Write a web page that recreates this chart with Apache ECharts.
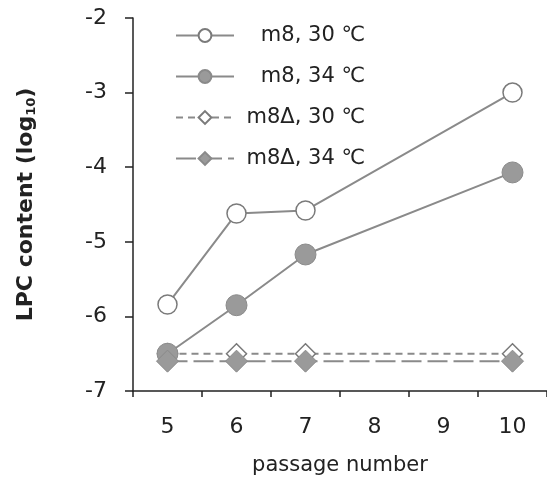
<!DOCTYPE html>
<html><head><meta charset="utf-8">
<script src="https://cdn.jsdelivr.net/npm/echarts@6/dist/echarts.min.js"></script>
<style>html,body{margin:0;padding:0;background:#fff}#c{width:547px;height:482px}</style>
</head><body><div id="c"></div>
<script>
const categories = ['5','6','7','8','9','10'];
const m8_30 = [-5.84, -4.62, -4.58, null, null, -3.0];
const m8_34 = [-6.5, -5.85, -5.17, null, null, -4.07];
const m8d_30 = [-6.5, -6.5, -6.5, null, null, -6.5];
const m8d_34 = [-6.6, -6.6, -6.6, null, null, -6.6];
const yTicks = [-7, -6, -5, -4, -3, -2];
const legendNames = ['m8, 30 ℃', 'm8, 34 ℃', 'm8Δ, 30 ℃', 'm8Δ, 34 ℃'];

const FONT = '"DejaVu Sans", "Noto Sans CJK JP", sans-serif';
const chart = echarts.init(document.getElementById('c'));
function ser(name, data, symbol, filled, lineType, size) {
  return {
    name, type: 'line', data, connectNulls: true, symbol, symbolSize: size,
    lineStyle: {color: '#8a8a8a', width: 2, type: lineType},
    itemStyle: {color: filled ? '#9a9a9a' : '#fff', borderColor: filled ? '#8a8a8a' : '#7a7a7a', borderWidth: filled ? 1 : 1.5},
    emphasis: {disabled: true}, z: filled ? 5 : 3
  };
}
chart.setOption({
  animation: false,
  textStyle: {fontFamily: FONT},
  grid: {left: 133, top: 18, bottom: 91, width: 420, containLabel: false},
  legend: {
    orient: 'vertical', left: 170, top: 20, itemGap: 20, itemWidth: 58, itemHeight: 16,
    formatter: n => '{r|' + n + '}',
    textStyle: {color: '#222', fontFamily: FONT, rich: {r: {fontSize: 21, lineHeight: 24, color: '#222', fontFamily: FONT, width: 126, align: 'right'}}},
    data: legendNames
  },
  xAxis: {
    type: 'category', data: categories, boundaryGap: true,
    name: 'passage number', nameLocation: 'middle', nameGap: 64,
    nameTextStyle: {fontSize: 21, color: '#222', fontFamily: FONT},
    axisLine: {lineStyle: {color: '#222', width: 1.5}},
    axisTick: {show: true, length: 6, alignWithLabel: false, lineStyle: {color: '#222', width: 1.5}},
    axisLabel: {fontSize: 22, color: '#222', margin: 25, fontFamily: FONT},
    splitLine: {show: false}
  },
  yAxis: {
    type: 'value', min: -7, max: -2, interval: 1,
    name: '{a|LPC content (log}{s|10}{a|)}', nameLocation: 'middle', nameGap: 95, nameRotate: 90,
    nameTextStyle: {rich: {
      a: {fontSize: 22, fontWeight: 'bold', color: '#222', fontFamily: FONT},
      s: {fontSize: 13, fontWeight: 'bold', color: '#222', fontFamily: FONT, verticalAlign: 'bottom', padding: [10, 0, 0, 0]}
    }},
    axisLine: {show: true, lineStyle: {color: '#222', width: 1.5}},
    axisTick: {show: true, inside: false, length: 8, lineStyle: {color: '#222', width: 1.5}},
    axisLabel: {fontSize: 22, color: '#222', margin: 26, fontFamily: FONT, formatter: v => yTicks.includes(v) ? String(v) : ''},
    splitLine: {show: false}
  },
  series: [
    ser(legendNames[0], m8_30, 'circle', false, 'solid', 19),
    ser(legendNames[1], m8_34, 'circle', true, 'solid', 21),
    ser(legendNames[2], m8d_30, 'diamond', false, [7, 5], 20),
    ser(legendNames[3], m8d_34, 'diamond', true, [20, 6], 22)
  ]
});
</script></body></html>
